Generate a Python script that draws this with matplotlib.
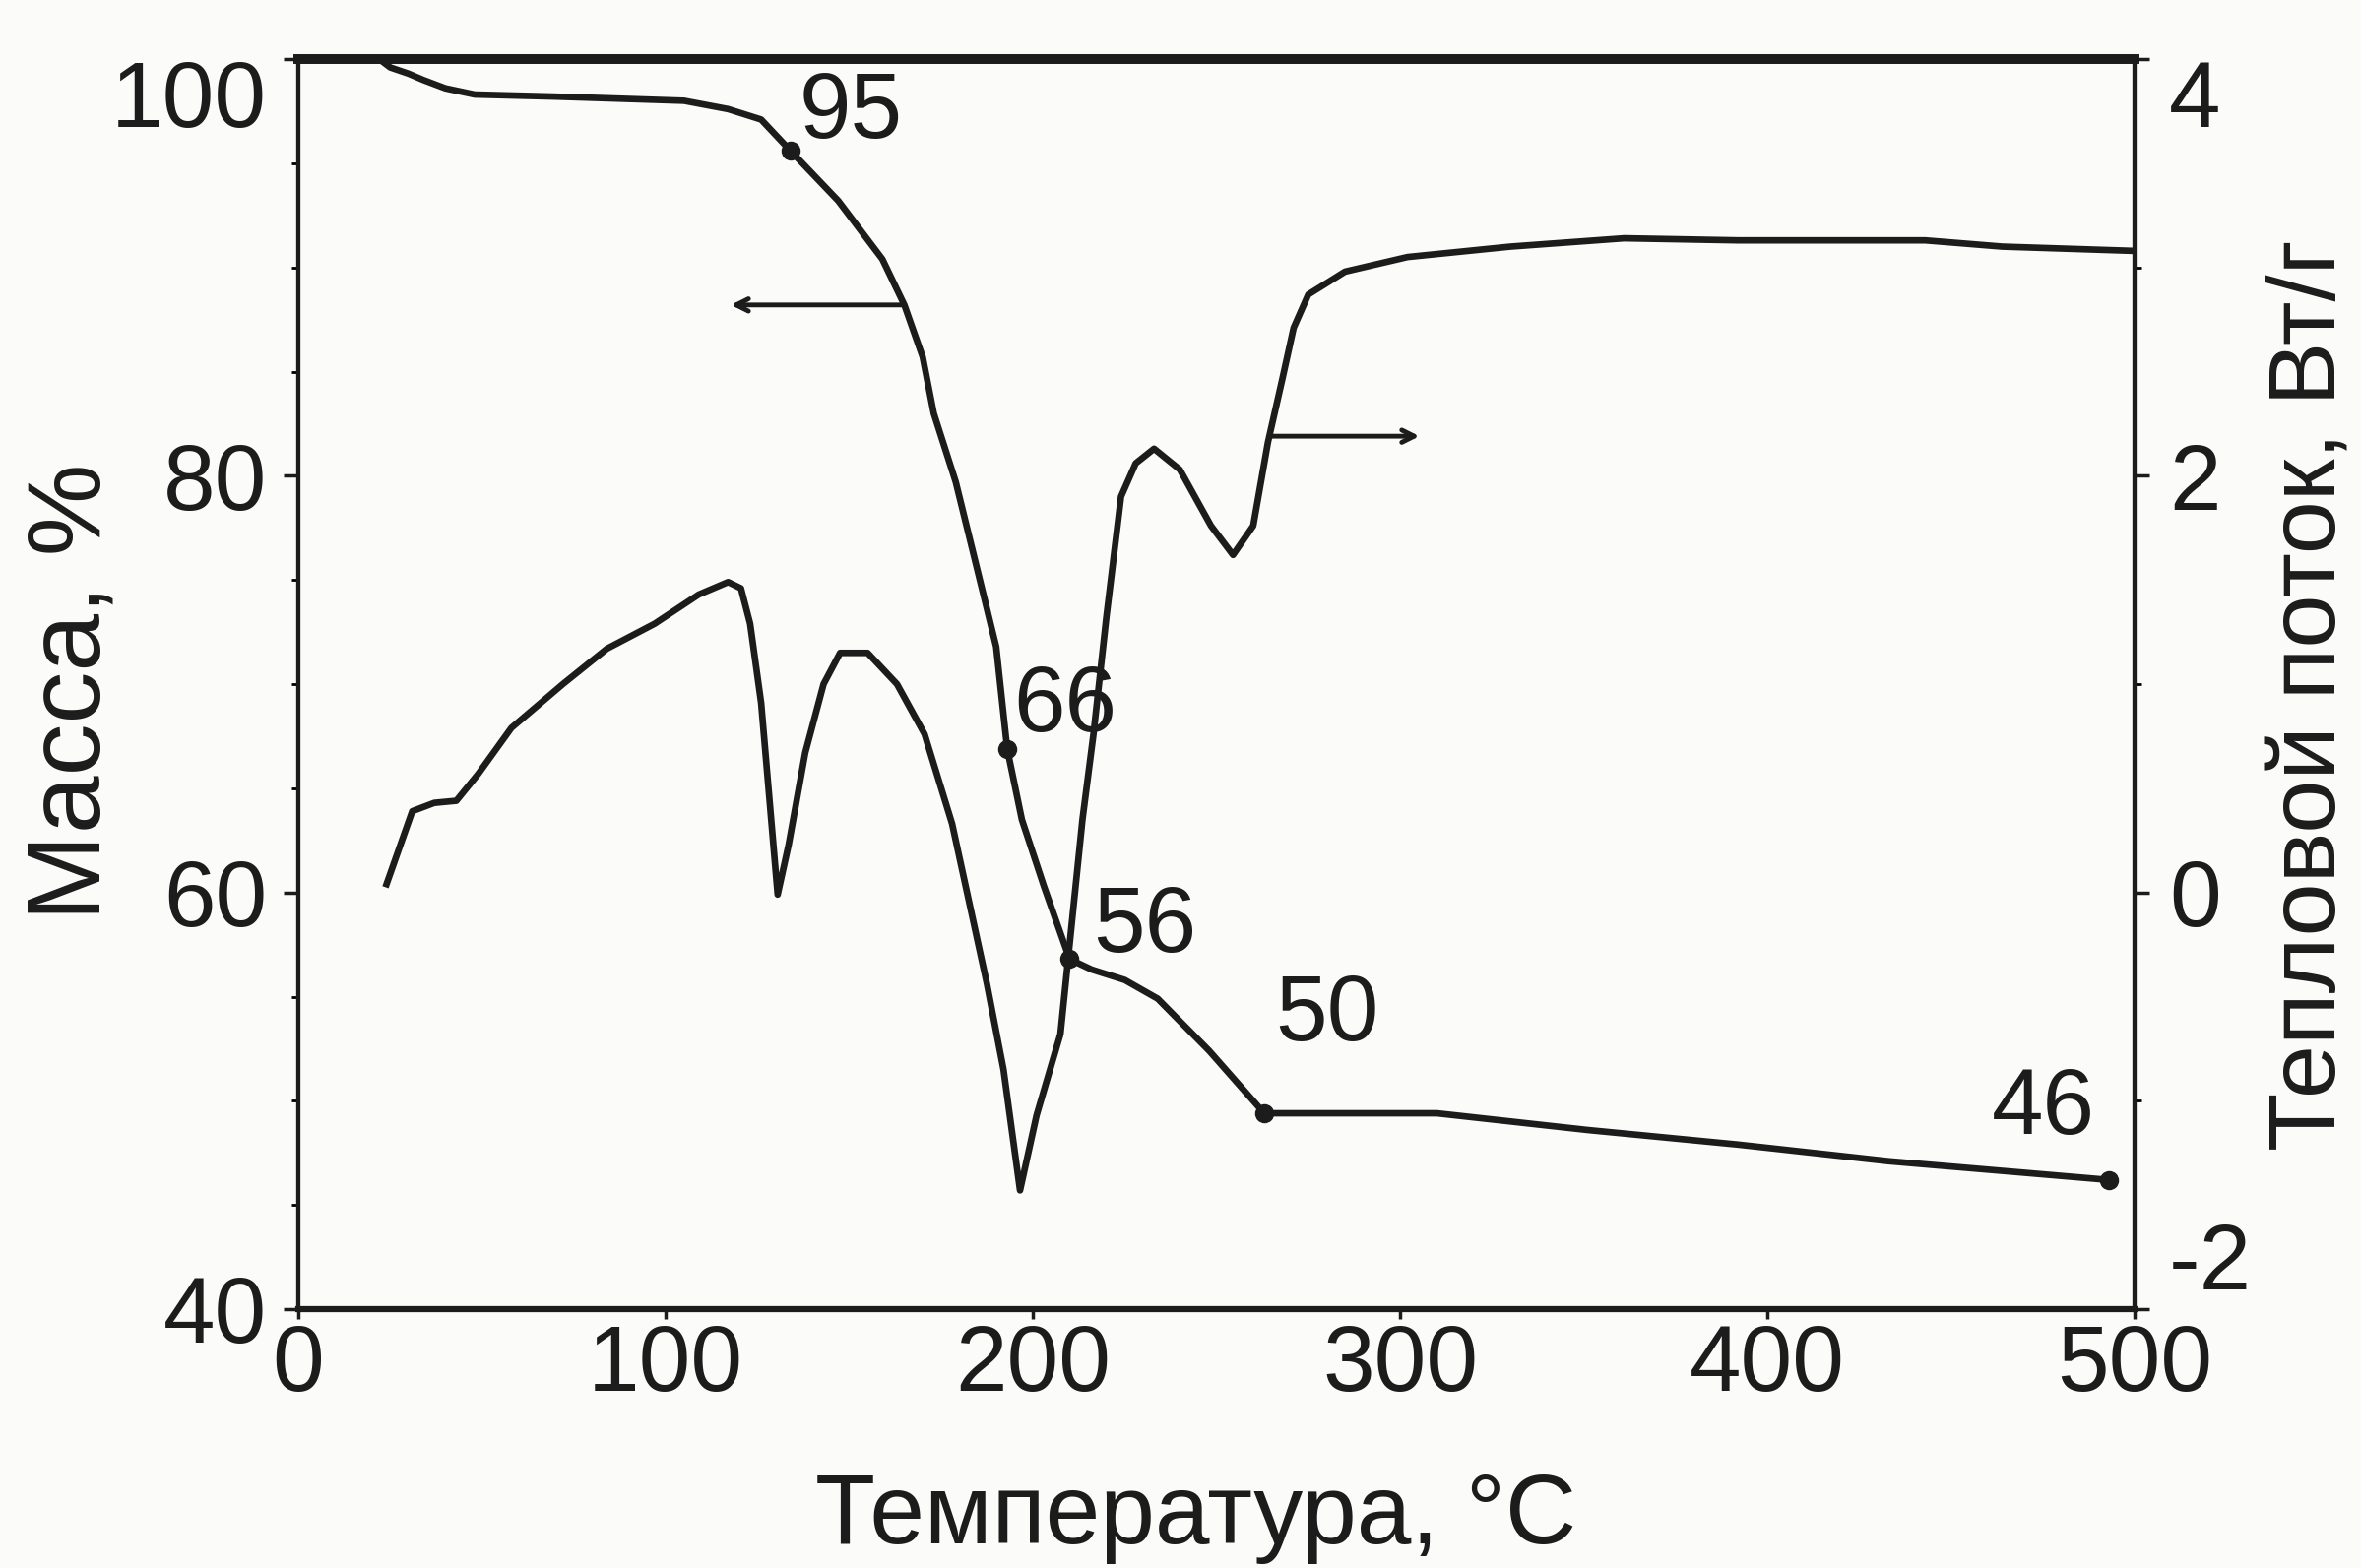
import numpy as np
import matplotlib.pyplot as plt
from matplotlib.ticker import MultipleLocator

# Font: plain sans like the scanned figure
plt.rcParams['font.family'] = ['Liberation Sans', 'DejaVu Sans']
plt.rcParams['axes.unicode_minus'] = False

INK = '#1c1c1c'
PAPER = '#fbfbf9'

# TG curve, mass %
t_mass = [22, 25, 30, 34, 40, 48, 70, 105, 117, 126, 134, 147,
          159, 165, 170, 173, 179, 185, 190, 193, 197, 203,
          210, 216, 225, 234, 248, 263, 310, 351, 392, 433, 493]
mass = [100, 99.6, 99.3, 99.0, 98.6, 98.3, 98.2, 98.0, 97.6, 97.1, 95.6, 93.2,
        90.4, 88.2, 85.7, 83.0, 79.7, 75.4, 71.8, 66.9, 63.5, 60.3,
        56.8, 56.3, 55.8, 54.9, 52.4, 49.4, 49.4, 48.6, 47.9, 47.1, 46.2]

# DSC curve, heat flow W/g
t_heat = [24, 27, 31, 37, 43, 49, 58, 72, 84, 97,
          109, 117, 120.5, 123, 126, 130.5, 133.5, 138, 143, 147.5,
          155, 163, 170.5, 178, 187.5, 192, 196.5, 201, 207.5, 210,
          213.5, 216.5, 220, 224, 228, 233, 240, 248.5, 254.5, 260,
          264, 268, 271, 275, 285, 302, 330, 361, 392, 443,
          464, 499]
heat = [0.04, 0.19, 0.39, 0.43, 0.44, 0.57, 0.79, 1.0, 1.17, 1.29,
        1.43, 1.49, 1.46, 1.29, 0.91, -0.01, 0.23, 0.67, 1.0, 1.15,
        1.15, 1.0, 0.76, 0.33, -0.44, -0.85, -1.43, -1.07, -0.68, -0.25,
        0.35, 0.76, 1.32, 1.9, 2.06, 2.13, 2.03, 1.76, 1.62, 1.76,
        2.16, 2.47, 2.71, 2.87, 2.98, 3.05, 3.1, 3.14, 3.13, 3.13,
        3.10, 3.08]

# marked mass points and their labels
mark_idx = [10, 19, 22, 27, 32]
mark_text = ['95', '66', '56', '50', '46']

x_ticks = [0, 100, 200, 300, 400, 500]
mass_ticks = [40, 60, 80, 100]
heat_ticks = [-2, 0, 2, 4]

fig = plt.figure(figsize=(23.98, 15.93), dpi=100, facecolor=PAPER)
ax = fig.add_axes([0.1264, 0.1651, 0.7777, 0.7972])
ax.set_facecolor(PAPER)
ax2 = ax.twinx()

ax.plot(t_mass, mass, color=INK, lw=4.8, solid_joinstyle='round', zorder=3)
ax2.plot(t_heat, heat, color=INK, lw=4.8, solid_joinstyle='round', zorder=3)

mx = [t_mass[i] for i in mark_idx]
my = [mass[i] for i in mark_idx]
ax.plot(mx, my, 'o', color=INK, ms=13, zorder=4)

offsets = [(44, 27), (42, 30), (55, 23), (46, 71), (-48, 51)]
for x, y, s, off in zip(mx, my, mark_text, offsets):
    ax.annotate(s, (x, y), xytext=off, textcoords='offset points',
                ha='center', va='center', fontsize=68, color=INK)

# direction arrows
ax.annotate('', xy=(117, 88.2), xytext=(165, 88.2),
            arrowprops=dict(arrowstyle='->,head_length=0.9,head_width=0.45',
                            color=INK, lw=3.5))
ax2.annotate('', xy=(306, 2.19), xytext=(264, 2.19),
             arrowprops=dict(arrowstyle='->,head_length=0.9,head_width=0.45',
                             color=INK, lw=3.5))

ax.set_xlim(0, 500)
ax.set_ylim(40, 100)
ax2.set_ylim(-2, 4)

ax.set_xticks(x_ticks)
ax.set_yticks(mass_ticks)
ax.yaxis.set_minor_locator(MultipleLocator(5))
ax2.set_yticks(heat_ticks)
ax2.yaxis.set_minor_locator(MultipleLocator(1))

ax.tick_params(axis='x', direction='out', length=7, width=2.5, pad=3,
               labelsize=68, colors=INK)
ax.tick_params(axis='y', which='major', direction='out', length=11, width=2.5,
               pad=12, labelsize=68, colors=INK)
ax.tick_params(axis='y', which='minor', direction='out', length=5, width=2)
ax2.tick_params(axis='y', which='major', direction='out', length=11, width=2.5,
                pad=14, labelsize=68, colors=INK)
ax2.tick_params(axis='y', which='minor', direction='out', length=5, width=2)

ax.get_yticklabels()[-1].set_va('top')
ax2.get_yticklabels()[0].set_va('bottom')
ax2.get_yticklabels()[-1].set_va('top')

for a in (ax, ax2):
    for sp in a.spines.values():
        sp.set_color(INK)
        sp.set_linewidth(3)
ax.spines['top'].set_linewidth(7)
ax.spines['bottom'].set_linewidth(4.5)
ax2.spines['top'].set_linewidth(7)

fig.text(0.5066, 0.016, 'Температура, °C', ha='center', va='baseline',
         fontsize=72, color=INK)
fig.text(0.031, 0.559, 'Масса, %', ha='center', va='center', rotation=90,
         fontsize=76, color=INK)
fig.text(0.979, 0.557, 'Тепловой поток, Вт/г', ha='center', va='center',
         rotation=90, fontsize=70, color=INK)

fig.savefig('out.png', dpi=100, facecolor=PAPER)
